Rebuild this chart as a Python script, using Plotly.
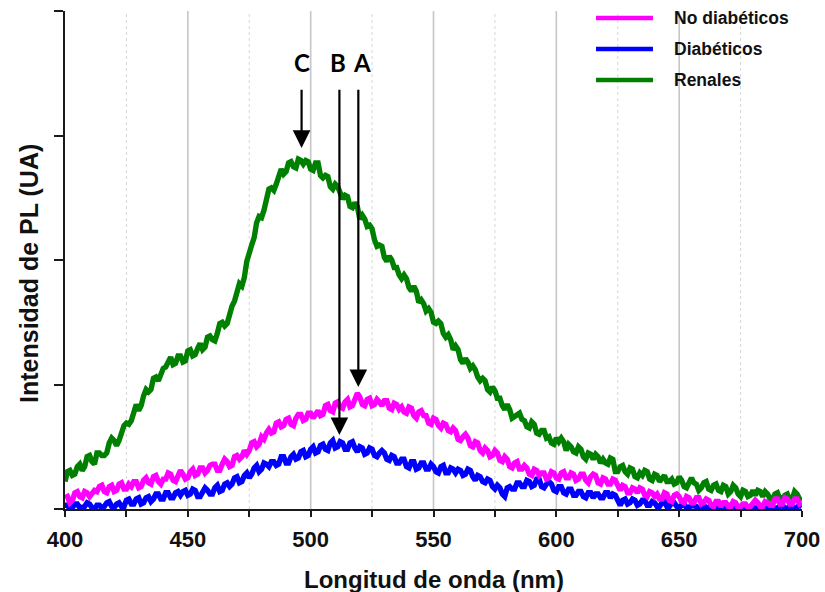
import plotly.graph_objects as go

# Emission wavelength grid (nm), one reading per nm
WAVELENGTH_NM = list(range(400, 701))

# Photoluminescence intensity (arbitrary units) for each group, 400-700 nm
NO_DIABETICOS = [
    .09, .10, .05, .07, .13, .14, .10, .09, .14, .13,
    .10, .12, .15, .14, .18, .19, .14, .13, .18, .19,
    .14, .15, .20, .21, .16, .16, .20, .18, .22, .22,
    .17, .18, .23, .25, .21, .20, .26, .27, .22, .20,
    .24, .24, .29, .28, .23, .22, .28, .31, .28, .24,
    .25, .30, .32, .27, .28, .33, .33, .29, .31, .35,
    .36, .36, .31, .31, .36, .40, .38, .34, .35, .42,
    .43, .40, .42, .47, .44, .47, .53, .54, .50, .52,
    .58, .56, .61, .64, .61, .62, .69, .70, .66, .67,
    .72, .73, .68, .67, .73, .76, .76, .71, .72, .77,
    .77, .73, .76, .79, .75, .76, .83, .84, .79, .78,
    .85, .86, .82, .81, .86, .88, .82, .83, .88, .93,
    .90, .84, .83, .88, .89, .83, .84, .88, .86, .83,
    .87, .87, .81, .80, .85, .84, .80, .82, .78, .77,
    .82, .81, .75, .73, .78, .79, .75, .75, .69, .68,
    .73, .72, .67, .65, .69, .68, .63, .62, .65, .63,
    .56, .55, .58, .60, .57, .51, .50, .54, .53, .47,
    .45, .49, .47, .42, .43, .47, .45, .39, .38, .42,
    .40, .34, .33, .37, .38, .32, .32, .35, .33, .28,
    .27, .32, .31, .27, .29, .29, .24, .25, .30, .29,
    .25, .24, .29, .30, .25, .25, .29, .28, .23, .24,
    .28, .28, .23, .21, .26, .28, .27, .21, .20, .25,
    .24, .20, .20, .24, .23, .18, .15, .19, .18, .13,
    .13, .17, .16, .13, .17, .16, .11, .10, .14, .13,
    .10, .12, .08, .08, .13, .12, .07, .06, .11, .12,
    .10, .06, .05, .10, .09, .05, .05, .09, .09, .04,
    .05, .08, .07, .03, .02, .06, .06, .02, .05, .05,
    .02, .02, .06, .05, .01, .02, .04, .04, .01, .02,
    .05, .07, .05, .02, .02, .06, .05, .03, .03, .08,
    .08, .04, .04, .09, .08, .04, .04, .08, .08, .04,
    .05,
]

DIABETICOS = [
    .03, .03, .00, .01, .04, .04, .01, .01, .02, .05,
    .04, .01, .00, .03, .03, .01, .02, .05, .06, .02,
    .01, .04, .05, .02, .02, .07, .08, .04, .04, .08,
    .09, .04, .05, .09, .10, .06, .08, .12, .12, .08,
    .08, .13, .13, .09, .09, .13, .14, .11, .14, .15,
    .11, .12, .16, .15, .10, .10, .13, .17, .15, .12,
    .12, .17, .19, .14, .15, .20, .21, .18, .20, .25,
    .26, .21, .22, .27, .29, .25, .28, .33, .35, .30,
    .32, .37, .36, .34, .38, .38, .35, .36, .42, .42,
    .37, .37, .42, .44, .40, .41, .46, .47, .42, .43,
    .48, .50, .45, .46, .51, .52, .48, .47, .53, .55,
    .49, .50, .54, .53, .48, .48, .53, .54, .49, .46,
    .50, .49, .44, .45, .49, .48, .43, .42, .45, .47,
    .45, .40, .39, .43, .42, .37, .37, .40, .40, .34,
    .33, .38, .38, .32, .33, .37, .37, .32, .32, .36,
    .34, .30, .29, .34, .35, .29, .29, .33, .32, .29,
    .32, .31, .27, .28, .32, .31, .26, .23, .27, .26,
    .22, .21, .24, .23, .18, .16, .19, .17, .12, .10,
    .17, .18, .16, .16, .21, .21, .18, .18, .23, .22,
    .18, .19, .24, .24, .18, .17, .20, .22, .20, .15,
    .14, .18, .18, .13, .12, .16, .16, .11, .11, .14,
    .14, .10, .09, .13, .13, .09, .12, .12, .09, .09,
    .13, .13, .09, .12, .11, .06, .03, .07, .08, .04,
    .05, .08, .07, .03, .04, .07, .07, .03, .03, .06,
    .05, .02, .02, .05, .06, .02, .02, .05, .05, .02,
    .01, .03, .04, .01, .01, .03, .03, .02, .00, .02,
    .03, .01, .01, .03, .02, .00, .00, .02, .03, .01,
    .01, .03, .02, .00, .00, .02, .03, .01, .01, .02,
    .02, .00, .01, .03, .03, .01, .00, .02, .02, .00,
    .01, .03, .03, .01, .00, .02, .02, .00, .01, .03,
    .02,
]

RENALES = [
    .22, .30, .31, .27, .28, .34, .36, .31, .34, .42,
    .43, .38, .36, .45, .45, .43, .43, .45, .53, .57,
    .55, .51, .55, .63, .67, .69, .68, .71, .80, .84,
    .79, .83, .91, .96, .94, .96, 1.05, 1.06, 1.03, 1.07,
    1.13, 1.14, 1.19, 1.22, 1.16, 1.17, 1.23, 1.23, 1.18, 1.19,
    1.27, 1.28, 1.23, 1.24, 1.29, 1.33, 1.28, 1.30, 1.38, 1.39,
    1.36, 1.35, 1.41, 1.49, 1.50, 1.47, 1.49, 1.58, 1.63, 1.67,
    1.74, 1.81, 1.79, 1.86, 1.99, 2.08, 2.12, 2.18, 2.30, 2.35,
    2.34, 2.40, 2.50, 2.57, 2.58, 2.56, 2.61, 2.69, 2.73, 2.69,
    2.71, 2.78, 2.79, 2.75, 2.74, 2.81, 2.80, 2.77, 2.80, 2.79,
    2.73, 2.72, 2.78, 2.78, 2.68, 2.66, 2.68, 2.67, 2.59, 2.57,
    2.61, 2.59, 2.53, 2.49, 2.52, 2.51, 2.43, 2.42, 2.46, 2.43,
    2.33, 2.36, 2.33, 2.27, 2.28, 2.25, 2.16, 2.11, 2.12, 2.11,
    2.02, 1.99, 2.03, 2.00, 1.94, 1.94, 1.88, 1.85, 1.88, 1.85,
    1.78, 1.75, 1.79, 1.75, 1.66, 1.68, 1.65, 1.59, 1.61, 1.58,
    1.50, 1.49, 1.51, 1.49, 1.41, 1.38, 1.40, 1.36, 1.28, 1.31,
    1.28, 1.20, 1.17, 1.21, 1.18, 1.13, 1.15, 1.12, 1.06, 1.03,
    1.05, 1.03, .96, .94, .98, .95, .89, .89, .83, .80,
    .84, .80, .73, .74, .76, .77, .72, .71, .66, .65,
    .70, .68, .61, .60, .63, .63, .57, .58, .53, .52,
    .57, .54, .57, .54, .47, .52, .50, .46, .45, .50,
    .48, .42, .40, .45, .44, .40, .44, .42, .37, .40,
    .37, .36, .41, .40, .30, .30, .34, .35, .30, .28,
    .33, .32, .26, .25, .29, .27, .31, .30, .24, .23,
    .28, .27, .22, .25, .27, .22, .22, .24, .20, .21,
    .26, .23, .18, .17, .22, .25, .21, .20, .15, .17,
    .21, .22, .16, .15, .19, .20, .15, .14, .19, .18,
    .12, .14, .19, .17, .12, .10, .15, .14, .10, .11,
    .15, .11, .15, .14, .10, .14, .12, .08, .08, .12,
    .13, .08, .08, .11, .12, .07, .08, .14, .12, .08,
    .07,
]

SERIES_NAMES = ["No diabéticos", "Diabéticos", "Renales"]
SERIES_COLORS = ["#ff00ff", "#0000ff", "#008000"]

# Emission maxima marked with arrows (label, wavelength in nm, arrow tip intensity)
PEAK_LABELS = ["A", "B", "C"]
PEAK_NM = [519.4, 511.7, 496.3]
PEAK_TIP = [0.98, 0.594, 2.90]

X_TICKS = [400, 450, 500, 550, 600, 650, 700]
GRID_MAJOR = [450, 500, 550, 600, 650]
GRID_MINOR = [425, 475, 525, 575, 625, 675]

assert len(WAVELENGTH_NM) == len(NO_DIABETICOS) == len(DIABETICOS) == len(RENALES)

FONT = "Liberation Sans, Arial, sans-serif"
INK = "#111111"

fig = go.Figure()

# green underneath, magenta drawn last
for name, ys, color in [
    (SERIES_NAMES[2], RENALES, SERIES_COLORS[2]),
    (SERIES_NAMES[1], DIABETICOS, SERIES_COLORS[1]),
    (SERIES_NAMES[0], NO_DIABETICOS, SERIES_COLORS[0]),
]:
    fig.add_trace(go.Scatter(
        x=WAVELENGTH_NM, y=ys, name=name, mode="lines",
        line=dict(color=color, width=5.4), showlegend=False,
    ))

shapes = []
for g in GRID_MAJOR:
    shapes.append(dict(type="line", xref="x", yref="paper", x0=g, x1=g, y0=0, y1=1,
                       line=dict(color="#c6c6c6", width=1.6), layer="below"))
for g in GRID_MINOR:
    shapes.append(dict(type="line", xref="x", yref="paper", x0=g, x1=g, y0=0, y1=1,
                       line=dict(color="#d6d6d6", width=1, dash="dot"), layer="below"))

annotations = []

# hand-placed legend at the top right
legend_rows = [0.9859, 0.9237, 0.8614]
for name, color, ly in zip(SERIES_NAMES, SERIES_COLORS, legend_rows):
    shapes.append(dict(type="line", xref="paper", yref="paper",
                       x0=0.7205, x1=0.7978, y0=ly, y1=ly,
                       line=dict(color=color, width=4.5)))
    annotations.append(dict(xref="paper", yref="paper", x=0.8236, y=ly,
                            xanchor="left", yanchor="middle", showarrow=False,
                            text=name, font=dict(family=FONT, size=17.5, color=INK, weight="bold")))

# peak arrows and their letters
for lab, nm, tip in zip(PEAK_LABELS, PEAK_NM, PEAK_TIP):
    annotations.append(dict(xref="x", yref="y", x=nm, y=tip,
                            axref="x", ayref="y", ax=nm, ay=3.38,
                            text="", showarrow=True, arrowhead=2,
                            arrowsize=1.6, arrowwidth=2.2, arrowcolor="#000000"))
letter_x = {"A": 521.0, "B": 511.2, "C": 496.6}
for lab in PEAK_LABELS:
    annotations.append(dict(xref="x", yref="y", x=letter_x[lab], y=3.59,
                            xanchor="center", yanchor="middle", showarrow=False,
                            text=lab, font=dict(family="Lato, Open Sans, sans-serif",
                                                size=24, color="#000000", weight="bold")))

# axis titles
annotations.append(dict(xref="paper", yref="paper", x=0.5, y=-0.1406,
                        xanchor="center", yanchor="middle", showarrow=False,
                        text="Longitud de onda (nm)",
                        font=dict(family=FONT, size=24, color=INK, weight="bold")))
annotations.append(dict(xref="paper", yref="paper", x=-0.0488, y=0.472,
                        xanchor="center", yanchor="middle", showarrow=False,
                        textangle=-90, text="Intensidad de PL (UA)",
                        font=dict(family=FONT, size=25, color=INK, weight="bold")))

fig.update_layout(
    width=825, height=592,
    margin=dict(l=65, r=23, t=11, b=83, pad=0, autoexpand=False),
    paper_bgcolor="white", plot_bgcolor="white",
    shapes=shapes, annotations=annotations,
    showlegend=False,
    xaxis=dict(
        range=[400, 700], tickvals=X_TICKS, ticktext=[str(v) for v in X_TICKS],
        automargin=False,
        showgrid=False, zeroline=False,
        showline=True, linecolor="#1a1a1a", linewidth=2,
        ticks="outside", ticklen=6, tickwidth=2, tickcolor="#1a1a1a",
        ticklabelstandoff=4,
        minor=dict(tickvals=GRID_MINOR, ticks="outside", ticklen=6,
                   tickwidth=1.5, tickcolor="#1a1a1a", showgrid=False),
        tickfont=dict(family=FONT, size=22, color=INK, weight="bold"),
    ),
    yaxis=dict(
        range=[0, 4], dtick=1, tick0=0, automargin=False,
        showgrid=False, zeroline=False, showticklabels=False,
        showline=True, linecolor="#1a1a1a", linewidth=2,
        ticks="outside", ticklen=9, tickwidth=2, tickcolor="#1a1a1a",
    ),
)

fig.write_html("out.html")
